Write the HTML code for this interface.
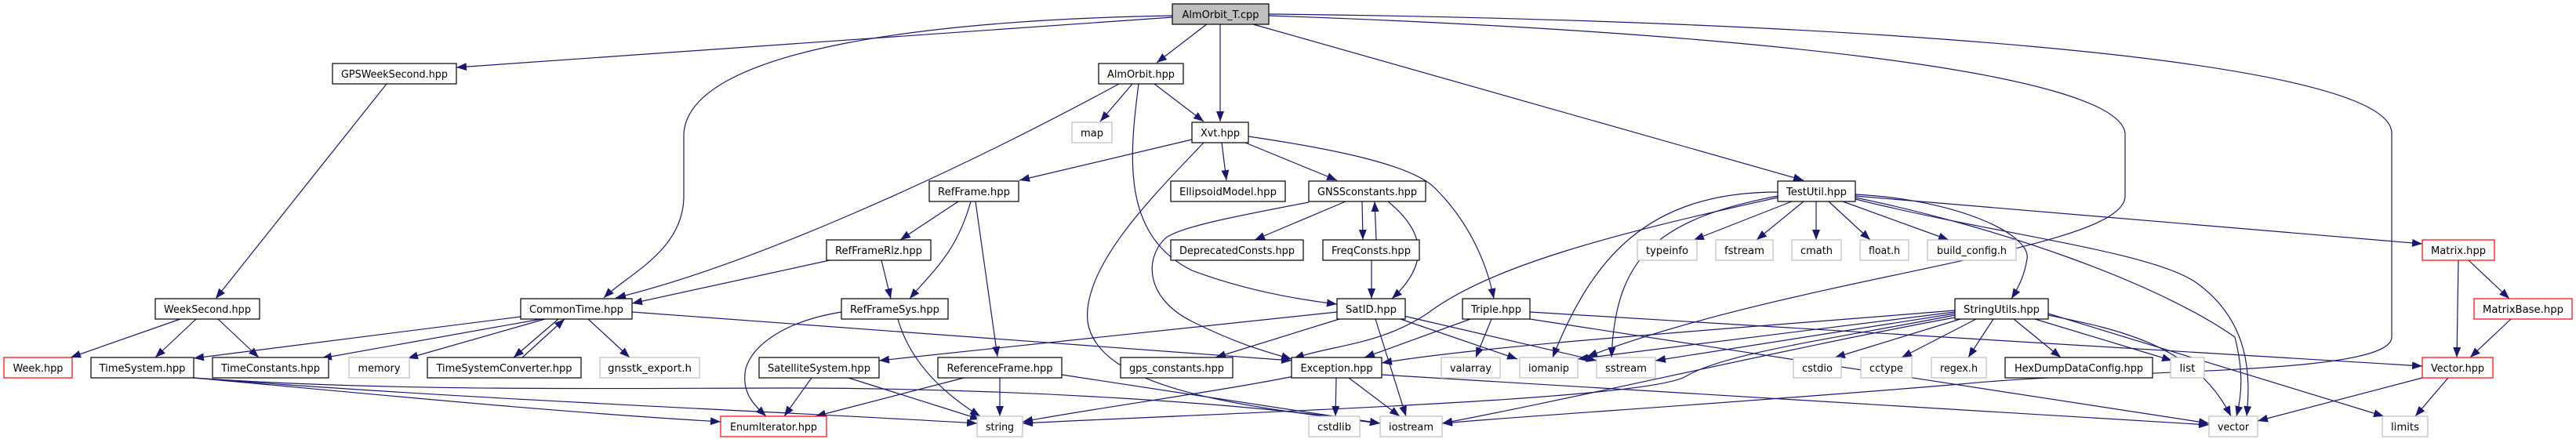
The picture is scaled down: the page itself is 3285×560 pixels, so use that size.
<!DOCTYPE html>
<html><head><meta charset="utf-8"><style>
html,body{margin:0;padding:0;background:#fff;}
svg{display:block;}
text{font-family:"DejaVu Sans","Liberation Sans",sans-serif;font-size:13px;fill:#000;}
.e{fill:none;stroke:#191970;stroke-width:1.2;}
</style></head><body>
<svg width="3285" height="560" viewBox="0 0 3285 560" xmlns="http://www.w3.org/2000/svg">
<defs>
<marker id="a" markerUnits="userSpaceOnUse" markerWidth="14" markerHeight="12" refX="13" refY="5" orient="auto">
<path d="M0,0 L13,5 L0,10 Z" fill="#191970"/>
</marker>
</defs>
<g marker-end="url(#a)">
<!-- AlmOrbit_T.cpp -->
<path class="e" d="M1495,22 L582,86"/>
<path class="e" d="M1495,20 C1200,25 880,60 872,170 L872,250 C872,320 800,350 770,380"/>
<path class="e" d="M1540,30 L1475,80"/>
<path class="e" d="M1556,31 L1556,155"/>
<path class="e" d="M1598,31 L2300,230"/>
<path class="e" d="M1618,20 C2200,40 2700,90 2710,170 L2710,250 C2710,320 2300,350 2024,455"/>
<path class="e" d="M1618,18 C2300,25 3050,70 3050,170 L3050,430 C3050,480 2700,470 2500,490 C2200,515 1950,530 1839,540"/>
<!-- AlmOrbit.hpp -->
<path class="e" d="M1427,107 C1200,230 950,340 785,380"/>
<path class="e" d="M1444,107 L1403,155"/>
<path class="e" d="M1472,107 L1535,155"/>
<path class="e" d="M1452,107 C1440,200 1430,300 1520,345 C1600,375 1680,385 1705,388"/>
<!-- Xvt.hpp -->
<path class="e" d="M1520,178 L1300,230"/>
<path class="e" d="M1558,182 L1564,230"/>
<path class="e" d="M1588,182 L1705,230"/>
<path class="e" d="M1592,174 C1700,190 1800,210 1830,240 C1870,280 1895,330 1905,381"/>
<path class="e" d="M1535,182 C1470,250 1380,340 1387,410 C1400,500 1600,520 1760,540"/>
<!-- RefFrame -->
<path class="e" d="M1222,257 L1148,306"/>
<path class="e" d="M1238,257 C1220,320 1195,340 1160,381"/>
<path class="e" d="M1244,257 L1272,455"/>
<!-- RefFrameRlz -->
<path class="e" d="M1058,332 L806,387"/>
<path class="e" d="M1124,332 L1136,381"/>
<!-- RefFrameSys -->
<path class="e" d="M1073,398 C1000,410 960,440 951,470 C945,500 960,515 977,531"/>
<path class="e" d="M1145,407 C1160,460 1200,500 1250,531"/>
<!-- CommonTime -->
<path class="e" d="M664,404 L247,457"/>
<path class="e" d="M690,407 L410,457"/>
<path class="e" d="M695,407 L520,457"/>
<path class="e" d="M712,407 L655,456"/>
<path class="e" d="M666,456 L720,407"/>
<path class="e" d="M750,407 L803,456"/>
<path class="e" d="M806,398 L1647,460"/>
<!-- WeekSecond / GPSWeekSecond -->
<path class="e" d="M493,107 L275,381"/>
<path class="e" d="M230,407 L90,456"/>
<path class="e" d="M250,407 L198,456"/>
<path class="e" d="M278,407 L330,456"/>
<!-- TimeSystem -->
<path class="e" d="M247,482 C500,505 700,525 919,538"/>
<path class="e" d="M247,482 C600,510 1000,525 1246,540"/>
<path class="e" d="M247,482 C500,500 800,495 1000,495 C1300,495 1600,515 1760,540"/>
<!-- SatelliteSystem -->
<path class="e" d="M1035,482 L1000,531"/>
<path class="e" d="M1082,482 L1250,535"/>
<!-- ReferenceFrame -->
<path class="e" d="M1229,482 L1040,531"/>
<path class="e" d="M1275,482 L1275,531"/>
<path class="e" d="M1354,478 L1760,540"/>
<!-- GNSSconstants -->
<path class="e" d="M1716,257 L1600,306"/>
<path class="e" d="M1737,257 L1738,306"/>
<path class="e" d="M1755,306 L1753,257"/>
<path class="e" d="M1770,257 C1810,290 1830,330 1775,381"/>
<path class="e" d="M1669,258 C1580,275 1500,290 1485,305 C1460,330 1460,380 1520,410 C1580,440 1620,450 1647,458"/>
<!-- FreqConsts -->
<path class="e" d="M1749,332 L1749,381"/>
<!-- SatID -->
<path class="e" d="M1705,398 L1121,460"/>
<path class="e" d="M1708,407 L1550,456"/>
<path class="e" d="M1754,407 L1793,531"/>
<path class="e" d="M1786,407 L1935,458"/>
<path class="e" d="M1790,403 L2036,460"/>
<!-- Triple -->
<path class="e" d="M1875,407 L1740,456"/>
<path class="e" d="M1902,407 L1882,456"/>
<path class="e" d="M1951,407 L2817,540"/>
<path class="e" d="M1951,398 L3089,467"/>
<!-- Exception -->
<path class="e" d="M1650,480 C1550,500 1400,520 1304,538"/>
<path class="e" d="M1704,482 L1703,531"/>
<path class="e" d="M1720,482 L1785,531"/>
<path class="e" d="M1762,478 L2817,542"/>
<!-- TestUtil -->
<path class="e" d="M2285,257 L2160,306"/>
<path class="e" d="M2300,257 L2240,306"/>
<path class="e" d="M2316,257 L2316,306"/>
<path class="e" d="M2332,257 L2385,306"/>
<path class="e" d="M2350,257 L2485,306"/>
<path class="e" d="M2366,248 C2500,255 2590,300 2585,330 C2582,350 2575,365 2565,381"/>
<path class="e" d="M2366,250 L3089,311"/>
<path class="e" d="M2366,252 C2550,290 2750,360 2850,430 C2860,470 2860,500 2852,531"/>
<path class="e" d="M2366,254 C2550,300 2740,320 2800,360 C2870,410 2870,480 2865,531"/>
<path class="e" d="M2267,245 C2100,245 2030,330 1980,456"/>
<path class="e" d="M2267,250 C2110,280 2060,330 2055,456"/>
<path class="e" d="M2267,252 C2050,300 1900,340 1820,400 C1760,440 1700,440 1650,457"/>
<!-- StringUtils -->
<path class="e" d="M2542,407 L2510,456"/>
<path class="e" d="M2568,407 L2628,456"/>
<path class="e" d="M2595,407 L2770,460"/>
<path class="e" d="M2612,402 C2700,420 2800,440 2845,531"/>
<path class="e" d="M2612,400 L3040,531"/>
<path class="e" d="M2520,407 L2425,456"/>
<path class="e" d="M2500,407 L2340,456"/>
<path class="e" d="M2493,400 L2111,460"/>
<path class="e" d="M2493,398 L2012,458"/>
<path class="e" d="M2493,396 C2200,420 1900,440 1762,463"/>
<path class="e" d="M2493,405 C2300,440 2000,510 1839,540"/>
<path class="e" d="M2493,402 C2350,430 2200,450 2150,480 C2100,510 1600,525 1304,540"/>
<!-- Matrix / Vector -->
<path class="e" d="M3135,332 L3133,456"/>
<path class="e" d="M3148,332 L3200,381"/>
<path class="e" d="M3202,407 L3150,456"/>
<path class="e" d="M3089,482 L2879,537"/>
<path class="e" d="M3122,482 L3080,531"/>
</g>

<g stroke-width="1.2">
<!-- row0 -->
<rect x="1495" y="5" width="123" height="26" fill="#bfbfbf" stroke="#000"/>
<!-- black nodes -->
<g fill="#fff" stroke="#000">
<rect x="424" y="81" width="158" height="26"/>
<rect x="1401" y="81" width="108" height="26"/>
<rect x="1520" y="156" width="72" height="26"/>
<rect x="1185" y="231" width="114" height="26"/>
<rect x="1493" y="231" width="146" height="26"/>
<rect x="1669" y="231" width="149" height="26"/>
<rect x="2267" y="231" width="99" height="26"/>
<rect x="1054" y="306" width="133" height="26"/>
<rect x="1493" y="306" width="169" height="26"/>
<rect x="1687" y="306" width="123" height="26"/>
<rect x="198" y="381" width="133" height="26"/>
<rect x="664" y="381" width="142" height="26"/>
<rect x="1073" y="381" width="136" height="26"/>
<rect x="1705" y="381" width="87" height="26"/>
<rect x="1865" y="381" width="86" height="26"/>
<rect x="2493" y="381" width="119" height="26"/>
<rect x="116" y="456" width="131" height="26"/>
<rect x="271" y="456" width="148" height="26"/>
<rect x="545" y="456" width="196" height="26"/>
<rect x="968" y="456" width="153" height="26"/>
<rect x="1196" y="456" width="158" height="26"/>
<rect x="1429" y="456" width="143" height="26"/>
<rect x="1647" y="456" width="115" height="26"/>
<rect x="2557" y="456" width="188" height="26"/>
</g>
<!-- red nodes -->
<g fill="#fff" stroke="#ff0000">
<rect x="5" y="456" width="87" height="26"/>
<rect x="919" y="531" width="135" height="26"/>
<rect x="3089" y="306" width="92" height="26"/>
<rect x="3155" y="381" width="125" height="26"/>
<rect x="3089" y="456" width="90" height="26"/>
</g>
<!-- gray nodes -->
<g fill="#fff" stroke="#bfbfbf">
<rect x="1367" y="156" width="51" height="26"/>
<rect x="2088" y="306" width="76" height="26"/>
<rect x="2188" y="306" width="73" height="26"/>
<rect x="2285" y="306" width="63" height="26"/>
<rect x="2372" y="306" width="62" height="26"/>
<rect x="2458" y="306" width="113" height="26"/>
<rect x="445" y="456" width="77" height="26"/>
<rect x="765" y="456" width="127" height="26"/>
<rect x="1838" y="456" width="75" height="26"/>
<rect x="1938" y="456" width="74" height="26"/>
<rect x="2036" y="456" width="75" height="26"/>
<rect x="2287" y="456" width="61" height="26"/>
<rect x="2373" y="456" width="65" height="26"/>
<rect x="2463" y="456" width="70" height="26"/>
<rect x="2768" y="456" width="43" height="26"/>
<rect x="1246" y="531" width="58" height="26"/>
<rect x="1669" y="531" width="65" height="26"/>
<rect x="1760" y="531" width="79" height="26"/>
<rect x="2817" y="531" width="62" height="26"/>
<rect x="3038" y="531" width="58" height="26"/>
</g>
</g>

<g text-anchor="middle" lengthAdjust="spacingAndGlyphs">
<text x="1556.5" y="23" textLength="98" lengthAdjust="spacingAndGlyphs">AlmOrbit_T.cpp</text>
<text x="503" y="99" textLength="136" lengthAdjust="spacingAndGlyphs">GPSWeekSecond.hpp</text>
<text x="1455" y="99" textLength="86" lengthAdjust="spacingAndGlyphs">AlmOrbit.hpp</text>
<text x="1556" y="174" textLength="50" lengthAdjust="spacingAndGlyphs">Xvt.hpp</text>
<text x="1392.5" y="174" textLength="29" lengthAdjust="spacingAndGlyphs">map</text>
<text x="1242" y="249" textLength="92" lengthAdjust="spacingAndGlyphs">RefFrame.hpp</text>
<text x="1566" y="249" textLength="124" lengthAdjust="spacingAndGlyphs">EllipsoidModel.hpp</text>
<text x="1743.5" y="249" textLength="127" lengthAdjust="spacingAndGlyphs">GNSSconstants.hpp</text>
<text x="2316.5" y="249" textLength="77" lengthAdjust="spacingAndGlyphs">TestUtil.hpp</text>
<text x="1120.5" y="324" textLength="111" lengthAdjust="spacingAndGlyphs">RefFrameRlz.hpp</text>
<text x="1577.5" y="324" textLength="147" lengthAdjust="spacingAndGlyphs">DeprecatedConsts.hpp</text>
<text x="1748.5" y="324" textLength="101" lengthAdjust="spacingAndGlyphs">FreqConsts.hpp</text>
<text x="2126" y="324" textLength="54" lengthAdjust="spacingAndGlyphs">typeinfo</text>
<text x="2224.5" y="324" textLength="51" lengthAdjust="spacingAndGlyphs">fstream</text>
<text x="2316.5" y="324" textLength="41" lengthAdjust="spacingAndGlyphs">cmath</text>
<text x="2403" y="324" textLength="40" lengthAdjust="spacingAndGlyphs">float.h</text>
<text x="2514.5" y="324" textLength="89" lengthAdjust="spacingAndGlyphs">build_config.h</text>
<text x="3135" y="324" textLength="70" lengthAdjust="spacingAndGlyphs">Matrix.hpp</text>
<text x="264.5" y="399" textLength="111" lengthAdjust="spacingAndGlyphs">WeekSecond.hpp</text>
<text x="735" y="399" textLength="120" lengthAdjust="spacingAndGlyphs">CommonTime.hpp</text>
<text x="1141" y="399" textLength="114" lengthAdjust="spacingAndGlyphs">RefFrameSys.hpp</text>
<text x="1748.5" y="399" textLength="65" lengthAdjust="spacingAndGlyphs">SatID.hpp</text>
<text x="1908" y="399" textLength="64" lengthAdjust="spacingAndGlyphs">Triple.hpp</text>
<text x="2552.5" y="399" textLength="97" lengthAdjust="spacingAndGlyphs">StringUtils.hpp</text>
<text x="3217.5" y="399" textLength="103" lengthAdjust="spacingAndGlyphs">MatrixBase.hpp</text>
<text x="48.5" y="474" textLength="64" lengthAdjust="spacingAndGlyphs">Week.hpp</text>
<text x="181.5" y="474" textLength="110" lengthAdjust="spacingAndGlyphs">TimeSystem.hpp</text>
<text x="345" y="474" textLength="126" lengthAdjust="spacingAndGlyphs">TimeConstants.hpp</text>
<text x="483.5" y="474" textLength="54" lengthAdjust="spacingAndGlyphs">memory</text>
<text x="643" y="474" textLength="173" lengthAdjust="spacingAndGlyphs">TimeSystemConverter.hpp</text>
<text x="828.5" y="474" textLength="107" lengthAdjust="spacingAndGlyphs">gnsstk_export.h</text>
<text x="1044.5" y="474" textLength="131" lengthAdjust="spacingAndGlyphs">SatelliteSystem.hpp</text>
<text x="1275" y="474" textLength="135" lengthAdjust="spacingAndGlyphs">ReferenceFrame.hpp</text>
<text x="1500.5" y="474" textLength="121" lengthAdjust="spacingAndGlyphs">gps_constants.hpp</text>
<text x="1704.5" y="474" textLength="92" lengthAdjust="spacingAndGlyphs">Exception.hpp</text>
<text x="1875.5" y="474" textLength="53" lengthAdjust="spacingAndGlyphs">valarray</text>
<text x="1975" y="474" textLength="52" lengthAdjust="spacingAndGlyphs">iomanip</text>
<text x="2073.5" y="474" textLength="53" lengthAdjust="spacingAndGlyphs">sstream</text>
<text x="2317.5" y="474" textLength="39" lengthAdjust="spacingAndGlyphs">cstdio</text>
<text x="2405.5" y="474" textLength="43" lengthAdjust="spacingAndGlyphs">cctype</text>
<text x="2498" y="474" textLength="48" lengthAdjust="spacingAndGlyphs">regex.h</text>
<text x="2651" y="474" textLength="164" lengthAdjust="spacingAndGlyphs">HexDumpDataConfig.hpp</text>
<text x="2789.5" y="474" textLength="20" lengthAdjust="spacingAndGlyphs">list</text>
<text x="3134" y="474" textLength="68" lengthAdjust="spacingAndGlyphs">Vector.hpp</text>
<text x="986.5" y="549" textLength="111" lengthAdjust="spacingAndGlyphs">EnumIterator.hpp</text>
<text x="1275" y="549" textLength="36" lengthAdjust="spacingAndGlyphs">string</text>
<text x="1701.5" y="549" textLength="43" lengthAdjust="spacingAndGlyphs">cstdlib</text>
<text x="1799.5" y="549" textLength="57" lengthAdjust="spacingAndGlyphs">iostream</text>
<text x="2848" y="549" textLength="40" lengthAdjust="spacingAndGlyphs">vector</text>
<text x="3067" y="549" textLength="36" lengthAdjust="spacingAndGlyphs">limits</text>
</g>
</svg>
</body></html>
